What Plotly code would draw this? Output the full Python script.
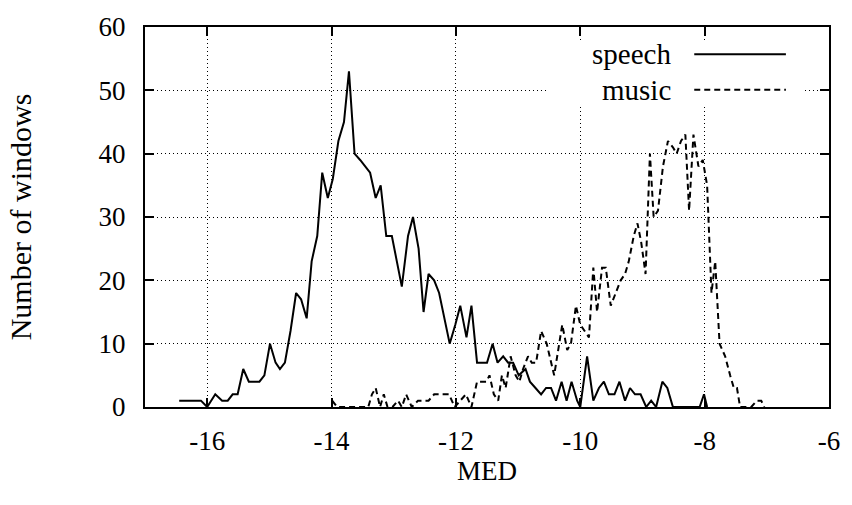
import plotly.graph_objects as go

# ---------------- data ----------------
speech_x = [-16.45, -16.36, -16.27, -16.19, -16.10, -16.00, -15.87, -15.76, -15.67, -15.59,
            -15.51, -15.42, -15.33, -15.24, -15.16, -15.08, -14.99, -14.90, -14.83, -14.75,
            -14.66, -14.57, -14.49, -14.40, -14.32, -14.23, -14.15, -14.06, -13.98, -13.89,
            -13.80, -13.72, -13.63, -13.54, -13.46, -13.38, -13.29, -13.21, -13.12, -13.03,
            -12.95, -12.87, -12.77, -12.69, -12.60, -12.52, -12.44, -12.35, -12.27, -12.18,
            -12.10, -12.01, -11.93, -11.83, -11.75, -11.66, -11.58, -11.50, -11.41, -11.33,
            -11.24, -11.16, -11.08, -10.99, -10.88, -10.81, -10.72, -10.63, -10.55, -10.47,
            -10.39, -10.30, -10.22, -10.14, -10.05, -10.00, -9.89, -9.79, -9.70, -9.62,
            -9.54, -9.45, -9.37, -9.28, -9.20, -9.12, -9.03, -8.94, -8.86, -8.78,
            -8.68, -8.60, -8.51, -8.43, -8.34, -8.25, -8.16, -8.08, -8.01, -7.96]
speech_y = [1, 1, 1, 1, 1, 0, 2, 1, 1, 2,
            2, 6, 4, 4, 4, 5, 10, 7, 6, 7,
            12, 18, 17, 14, 23, 27, 37, 33, 36, 42,
            45, 53, 40, 39, 38, 37, 33, 35, 27, 27,
            23, 19, 27, 30, 25, 15, 21, 20, 18, 14,
            10, 13, 16, 11, 16, 7, 7, 7, 10, 7,
            8, 7, 7, 5, 6, 4, 3, 2, 3, 3,
            1, 4, 1, 4, 1, 0, 8, 1, 3, 4,
            2, 2, 4, 1, 3, 2, 2, 0, 1, 0,
            4, 3, 0, 0, 0, 0, 0, 0, 2, 0]

music_x = [-13.99, -13.91, -13.81, -13.41, -13.35, -13.29, -13.22, -13.16, -13.10, -13.02,
           -12.93, -12.87, -12.80, -12.71, -12.61, -12.53, -12.44, -12.35, -12.27, -12.19,
           -12.11, -12.02, -11.93, -11.84, -11.75, -11.66, -11.58, -11.51, -11.46, -11.39,
           -11.32, -11.26, -11.20, -11.12, -11.04, -10.98, -10.92, -10.84, -10.78, -10.71,
           -10.63, -10.54, -10.42, -10.29, -10.21, -10.15, -10.07, -10.00, -9.93, -9.86,
           -9.79, -9.73, -9.65, -9.59, -9.51, -9.43, -9.35, -9.28, -9.22, -9.14,
           -9.08, -9.02, -8.95, -8.88, -8.82, -8.75, -8.67, -8.59, -8.51, -8.45,
           -8.38, -8.31, -8.25, -8.18, -8.10, -8.03, -7.96, -7.89, -7.83, -7.76,
           -7.67, -7.59, -7.53, -7.48, -7.43, -7.34, -7.25, -7.16, -7.09, -7.04]
music_y = [1, 0, 0, 0, 2, 3, 0, 2, 0, 0,
           1, 0, 2, 0, 1, 1, 1, 2, 2, 2,
           2, 0, 1, 2, 0, 4, 4, 4, 5, 2,
           1, 5, 3, 8, 5, 4, 6, 8, 7, 7,
           12, 10, 5, 13, 9, 10, 16, 13, 12, 11,
           22, 15, 22, 22, 16, 18, 20, 21, 23, 27,
           29, 26, 21, 40, 30, 31, 38, 42, 41, 40,
           42, 43, 31, 43, 38, 39, 35, 18, 23, 10,
           8, 5, 3, 3, 0, 0, 0, 1, 1, 0]

x_ticks = [-16, -14, -12, -10, -8, -6]
x_tick_labels = ["-16", "-14", "-12", "-10", "-8", "-6"]
y_ticks = [0, 10, 20, 30, 40, 50, 60]
y_tick_labels = ["0", "10", "20", "30", "40", "50", "60"]

assert len(speech_x) == len(speech_y)
assert len(music_x) == len(music_y)

FONT = "Liberation Serif"

fig = go.Figure()
fig.add_trace(go.Scatter(x=speech_x, y=speech_y, mode="lines", name="speech",
                         line=dict(color="black", width=2), showlegend=False))
fig.add_trace(go.Scatter(x=music_x, y=music_y, mode="lines", name="music",
                         line=dict(color="black", width=2, dash="6px,4px"), showlegend=False))

axis_common = dict(
    showgrid=True, gridcolor="black", gridwidth=1, griddash="1px,3px",
    showline=True, linecolor="black", linewidth=2, mirror="ticks",
    ticks="inside", ticklen=9, tickcolor="black", tickwidth=1.5,
    zeroline=False, tickfont=dict(family=FONT, size=27, color="black"),
)

fig.update_layout(
    width=852, height=505,
    margin=dict(l=145, r=14, t=18, b=98),
    plot_bgcolor="white", paper_bgcolor="white",
    font=dict(family=FONT, size=27, color="black"),
    xaxis=dict(range=[-17, -6], tickvals=x_ticks, ticktext=x_tick_labels,
               ticklabelstandoff=9,
               title=dict(text="MED", font=dict(family=FONT, size=27), standoff=2),
               **axis_common),
    yaxis=dict(range=[0, 60], tickvals=y_ticks, ticktext=y_tick_labels,
               ticklabelstandoff=12,
               title=dict(text="Number of windows", font=dict(family=FONT, size=30), standoff=58),
               **axis_common),
)

# gnuplot-style key: opaque box, right-aligned labels, samples to the right
fig.add_shape(type="rect", xref="paper", yref="paper", x0=0.588, x1=0.963, y0=0.797, y1=0.964,
              fillcolor="white", line=dict(width=0), layer="above")
fig.add_shape(type="line", xref="paper", yref="paper", x0=0.803, x1=0.937, y0=0.928, y1=0.928,
              line=dict(color="black", width=2), layer="above")
fig.add_shape(type="line", xref="paper", yref="paper", x0=0.803, x1=0.937, y0=0.835, y1=0.835,
              line=dict(color="black", width=2, dash="6px,4px"), layer="above")
fig.add_annotation(xref="paper", yref="paper", x=0.772, y=0.928, text="speech", showarrow=False,
                   xanchor="right", yanchor="middle", font=dict(family=FONT, size=29))
fig.add_annotation(xref="paper", yref="paper", x=0.772, y=0.835, text="music", showarrow=False,
                   xanchor="right", yanchor="middle", font=dict(family=FONT, size=29))

fig.write_html("out.html")
